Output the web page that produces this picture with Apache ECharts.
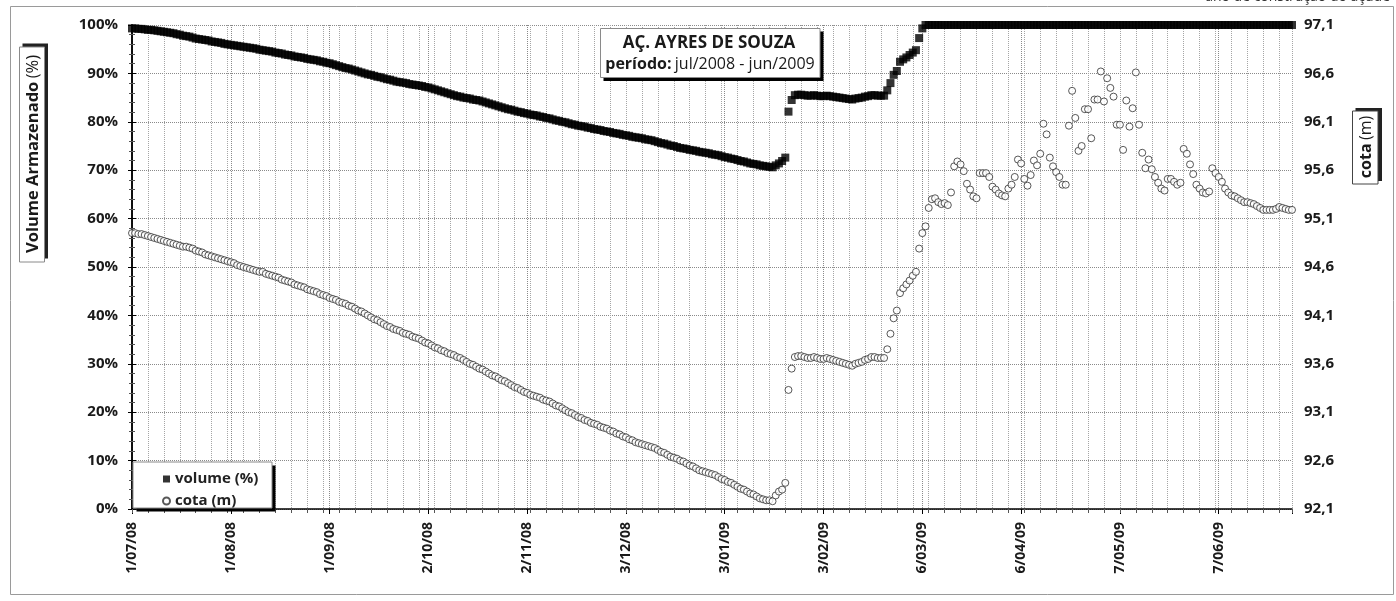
<!DOCTYPE html>
<html>
<head>
<meta charset="utf-8">
<script src="https://cdn.jsdelivr.net/npm/echarts@6/dist/echarts.min.js"></script>
<style>
html,body{margin:0;padding:0;background:#fff;}
#chart{width:1396px;height:601px;}
</style>
</head>
<body>
<div id="chart"></div>
<script>
// x axis: days counted from 1/07/08 (daily readings, 1/07/08 .. 30/06/09)
const dateTickLabels = ['1/07/08','1/08/08','1/09/08','2/10/08','2/11/08','3/12/08','3/01/09','3/02/09','6/03/09','6/04/09','7/05/09','7/06/09'];
const volumeTickLabels = ['0%','10%','20%','30%','40%','50%','60%','70%','80%','90%','100%'];
const cotaTickLabels = ['92,1','92,6','93,1','93,6','94,1','94,6','95,1','95,6','96,1','96,6','97,1'];
const COTA_BASE = 92.1;

// volume armazenado (%), one value per day
const volume = [
99.3,99.3,99.2,99.2,99.1,99.0,99.0,98.9,98.8,98.7,
98.6,98.5,98.4,98.3,98.1,98.0,97.8,97.7,97.6,97.4,
97.2,97.1,97.0,96.9,96.8,96.6,96.5,96.4,96.3,96.1,
96.0,95.9,95.8,95.7,95.6,95.5,95.4,95.3,95.2,95.1,
94.9,94.8,94.7,94.6,94.5,94.3,94.2,94.1,93.9,93.8,
93.7,93.5,93.4,93.3,93.2,93.0,92.9,92.8,92.7,92.5,
92.4,92.2,92.1,91.9,91.7,91.5,91.3,91.1,91.0,90.8,
90.6,90.4,90.2,90.0,89.8,89.7,89.5,89.3,89.2,89.0,
88.8,88.7,88.5,88.3,88.2,88.1,88.0,87.8,87.7,87.6,
87.5,87.4,87.2,87.1,86.9,86.7,86.5,86.3,86.1,85.9,
85.7,85.5,85.3,85.2,85.0,84.9,84.8,84.6,84.5,84.4,
84.2,84.0,83.8,83.6,83.4,83.2,83.0,82.8,82.6,82.5,
82.3,82.1,82.0,81.8,81.7,81.5,81.4,81.3,81.1,81.0,
80.8,80.7,80.5,80.3,80.2,80.0,79.9,79.7,79.5,79.4,
79.2,79.1,79.0,78.8,78.7,78.5,78.4,78.3,78.1,78.0,
77.9,77.7,77.6,77.5,77.3,77.2,77.1,76.9,76.8,76.7,
76.6,76.4,76.3,76.2,76.0,75.8,75.6,75.5,75.3,75.1,
75.0,74.8,74.6,74.5,74.4,74.2,74.1,74.0,73.8,73.7,
73.6,73.5,73.3,73.2,73.1,72.9,72.7,72.6,72.4,72.3,
72.1,71.9,71.8,71.6,71.4,71.3,71.2,71.0,70.9,70.8,
70.7,70.6,71.0,71.4,71.9,72.6,82.1,84.5,85.5,85.6,
85.6,85.5,85.4,85.4,85.5,85.4,85.3,85.3,85.4,85.3,
85.2,85.1,85.0,84.9,84.8,84.7,84.6,84.8,84.9,85.0,
85.2,85.3,85.5,85.5,85.4,85.4,85.4,86.5,88.0,89.7,
90.5,92.4,92.9,93.3,93.8,94.3,94.8,97.3,99.3,100,
100,100,100,100,100,100,100,100,100,100,
100,100,100,100,100,100,100,100,100,100,
100,100,100,100,100,100,100,100,100,100,
100,100,100,100,100,100,100,100,100,100,
100,100,100,100,100,100,100,100,100,100,
100,100,100,100,100,100,100,100,100,100,
100,100,100,100,100,100,100,100,100,100,
100,100,100,100,100,100,100,100,100,100,
100,100,100,100,100,100,100,100,100,100,
100,100,100,100,100,100,100,100,100,100,
100,100,100,100,100,100,100,100,100,100,
100,100,100,100,100
];

// cota (m), one value per day
const cota = [
94.95,94.95,94.94,94.94,94.93,94.92,94.91,94.90,94.89,94.88,
94.87,94.86,94.85,94.84,94.83,94.82,94.81,94.81,94.80,94.79,
94.77,94.76,94.75,94.73,94.72,94.71,94.70,94.69,94.68,94.67,
94.66,94.65,94.64,94.62,94.61,94.60,94.59,94.58,94.57,94.56,
94.55,94.55,94.53,94.52,94.51,94.50,94.49,94.47,94.46,94.45,
94.44,94.42,94.41,94.40,94.39,94.37,94.36,94.35,94.34,94.32,
94.31,94.30,94.28,94.27,94.26,94.24,94.23,94.22,94.20,94.19,
94.17,94.15,94.14,94.12,94.10,94.08,94.06,94.05,94.03,94.01,
93.99,93.98,93.96,93.95,93.94,93.92,93.91,93.90,93.88,93.87,
93.86,93.84,93.82,93.81,93.79,93.77,93.76,93.74,93.73,93.71,
93.70,93.69,93.67,93.66,93.64,93.62,93.60,93.59,93.57,93.55,
93.54,93.52,93.50,93.48,93.47,93.45,93.43,93.42,93.40,93.38,
93.36,93.35,93.33,93.31,93.30,93.28,93.27,93.26,93.25,93.23,
93.22,93.21,93.19,93.17,93.16,93.14,93.12,93.10,93.09,93.07,
93.05,93.04,93.02,93.01,92.99,92.98,92.97,92.95,92.94,92.93,
92.91,92.90,92.88,92.87,92.85,92.84,92.82,92.81,92.79,92.78,
92.77,92.76,92.75,92.74,92.73,92.71,92.69,92.68,92.66,92.64,
92.63,92.62,92.60,92.59,92.57,92.55,92.54,92.52,92.50,92.49,
92.48,92.47,92.46,92.45,92.43,92.41,92.40,92.38,92.37,92.35,
92.33,92.31,92.30,92.28,92.26,92.25,92.23,92.21,92.20,92.19,
92.19,92.18,92.24,92.28,92.30,92.37,93.33,93.55,93.67,93.68,
93.68,93.67,93.66,93.66,93.67,93.66,93.65,93.65,93.66,93.65,
93.64,93.63,93.62,93.61,93.60,93.59,93.58,93.60,93.61,93.62,
93.64,93.65,93.67,93.67,93.66,93.66,93.66,93.75,93.91,94.07,
94.15,94.33,94.38,94.42,94.46,94.51,94.55,94.79,94.95,95.02,
95.21,95.30,95.31,95.27,95.25,95.26,95.24,95.37,95.64,95.69,
95.66,95.59,95.46,95.40,95.33,95.31,95.57,95.57,95.57,95.53,
95.43,95.40,95.36,95.34,95.33,95.41,95.45,95.53,95.71,95.67,
95.51,95.44,95.55,95.70,95.65,95.77,96.08,95.97,95.73,95.64,
95.58,95.53,95.45,95.45,96.06,96.42,96.14,95.80,95.85,96.23,
96.23,95.93,96.33,96.33,96.62,96.31,96.55,96.45,96.36,96.07,
96.07,95.81,96.32,96.05,96.24,96.61,96.07,95.78,95.62,95.71,
95.61,95.53,95.47,95.41,95.39,95.51,95.51,95.48,95.45,95.47,
95.82,95.77,95.66,95.56,95.45,95.41,95.37,95.36,95.38,95.62,
95.57,95.53,95.48,95.41,95.37,95.34,95.33,95.31,95.29,95.27,
95.27,95.26,95.25,95.23,95.21,95.19,95.19,95.19,95.19,95.20,
95.22,95.21,95.20,95.19,95.19
];

const FONT = "'Open Sans', 'DejaVu Sans', sans-serif";
const chart = echarts.init(document.getElementById('chart'), null, {renderer: 'canvas'});

const gridLine = {color: '#8a8a8a', type: 'dotted', width: 1};

const option = {
  animation: false,
  backgroundColor: '#fff',
  textStyle: {fontFamily: FONT},
  grid: {left: 132, right: 104, top: 25, bottom: 92, outerBoundsMode: 'none'},
  legend: {
    orient: 'vertical', left: 157, top: 465, itemWidth: 7, itemHeight: 7, itemGap: 4,
    textStyle: {fontFamily: FONT, fontSize: 15, fontWeight: 'bold', color: '#222', lineHeight: 18},
    data: ['volume (%)', 'cota (m)'], z: 6
  },
  xAxis: [
    {
      type: 'value', min: 0, max: 364, interval: 31, position: 'bottom',
      axisLine: {show: true, onZero: false, lineStyle: {color: '#000', width: 1.5}},
      axisTick: {show: true, length: 5, lineStyle: {color: '#000'}},
      axisLabel: {
        rotate: 90, margin: 13, fontSize: 14, fontWeight: 'bold', color: '#1a1a1a', fontFamily: FONT,
        formatter: function (v) { const k = v / 31; return (Number.isInteger(k) && dateTickLabels[k]) ? dateTickLabels[k] : ''; }
      },
      splitLine: {show: true, lineStyle: gridLine}
    },
    {
      type: 'value', min: 0, max: 364, interval: 5, position: 'bottom',
      axisLine: {show: false}, axisLabel: {show: false},
      axisTick: {show: true, length: 4, lineStyle: {color: '#555'}},
      splitLine: {show: true, lineStyle: {color: '#a5a5a5', type: 'dotted', width: 1}}
    }
  ],
  yAxis: [
    {
      type: 'value', min: 0, max: 100, interval: 10, position: 'left',
      axisLine: {show: true, lineStyle: {color: '#000', width: 1.5}},
      axisTick: {show: true, length: 4, lineStyle: {color: '#000'}},
      minorTick: {show: true, splitNumber: 5, length: 3, lineStyle: {color: '#555'}},
      axisLabel: {margin: 14, fontSize: 15, fontWeight: 'bold', color: '#1a1a1a', fontFamily: FONT,
        formatter: function (v) { return volumeTickLabels[Math.round(v / 10)]; }},
      splitLine: {show: true, lineStyle: gridLine}
    },
    {
      type: 'value', min: 0, max: 5, interval: 0.5, position: 'right',
      axisLine: {show: true, lineStyle: {color: '#000', width: 1.5}},
      axisTick: {show: true, length: 4, lineStyle: {color: '#000'}},
      minorTick: {show: true, splitNumber: 5, length: 3, lineStyle: {color: '#555'}},
      axisLabel: {margin: 12, fontSize: 15, fontWeight: 'bold', color: '#1a1a1a', fontFamily: FONT,
        formatter: function (v) { return cotaTickLabels[Math.round(v / 0.5)]; }},
      splitLine: {show: false}
    }
  ],
  series: [
    {
      name: 'volume (%)', type: 'scatter', xAxisIndex: 0, yAxisIndex: 0,
      symbol: 'rect', symbolSize: 8, clip: false, z: 3,
      itemStyle: {color: '#000'},
      data: volume.map(function (v, i) { return [i, v]; })
    },
    {
      name: 'cota (m)', type: 'scatter', xAxisIndex: 0, yAxisIndex: 1,
      symbol: 'circle', symbolSize: 7, clip: false, z: 4,
      itemStyle: {color: '#fff', borderColor: '#2e2e2e', borderWidth: 1},
      data: cota.map(function (v, i) { return [i, +(v - COTA_BASE).toFixed(3)]; })
    }
  ],
  graphic: [
    // outer border
    {type: 'rect', z: 1, shape: {x: 10.5, y: 6.5, width: 1383, height: 588}, style: {fill: null, stroke: '#9a9a9a', lineWidth: 1}},
    // cut-off note at top right
    {type: 'text', z: 10, x: 1390, y: -3, style: {text: 'ano de construção do açude', font: '14px ' + FONT, fill: '#333', align: 'right', verticalAlign: 'middle'}},
    // title box
    {type: 'rect', z: 10, shape: {x: 603.5, y: 31.5, width: 220, height: 49.5}, style: {fill: '#000'}},
    {type: 'rect', z: 11, shape: {x: 600.5, y: 28.5, width: 219.5, height: 49}, style: {fill: '#fff', stroke: '#8a8a8a', lineWidth: 1}},
    {type: 'text', z: 12, x: 709, y: 43.5, style: {text: 'AÇ. AYRES DE SOUZA', font: 'bold 17px ' + FONT, fill: '#1a1a1a', align: 'center', verticalAlign: 'middle'}},
    {type: 'text', z: 12, x: 710, y: 64.5, style: {
      text: '{b|período:} {r|jul/2008 - jun/2009}', align: 'center', verticalAlign: 'middle',
      rich: {b: {fontFamily: FONT, fontWeight: 'bold', fontSize: 16, fill: '#1a1a1a'}, r: {fontFamily: FONT, fontWeight: 'normal', fontSize: 16, fill: '#1a1a1a'}}
    }},
    // legend box
    {type: 'rect', z: 4, shape: {x: 136.5, y: 465.5, width: 139, height: 46}, style: {fill: '#000'}},
    {type: 'rect', z: 5, shape: {x: 133, y: 462, width: 139, height: 46}, style: {fill: '#fff', stroke: '#8a8a8a', lineWidth: 1}},
    // left axis title box
    {type: 'rect', z: 10, shape: {x: 22.5, y: 43.5, width: 25.5, height: 215}, style: {fill: '#222'}},
    {type: 'rect', z: 11, shape: {x: 19.5, y: 47, width: 25, height: 215}, style: {fill: '#fff', stroke: '#8a8a8a', lineWidth: 1}},
    {type: 'text', z: 12, x: 33, y: 154, rotation: Math.PI / 2, style: {
      text: '{b|Volume Armazenado} {r|(%)}', align: 'center', verticalAlign: 'middle',
      rich: {b: {fontFamily: FONT, fontWeight: 'bold', fontSize: 16.5, fill: '#1a1a1a'}, r: {fontFamily: FONT, fontWeight: 'normal', fontSize: 16.5, fill: '#1a1a1a'}}
    }},
    // right axis title box
    {type: 'rect', z: 10, shape: {x: 1355.5, y: 108, width: 26.5, height: 73}, style: {fill: '#222'}},
    {type: 'rect', z: 11, shape: {x: 1352.5, y: 111, width: 25.5, height: 73}, style: {fill: '#fff', stroke: '#444', lineWidth: 1}},
    {type: 'text', z: 12, x: 1366, y: 147, rotation: Math.PI / 2, style: {
      text: '{b|cota} {r|(m)}', align: 'center', verticalAlign: 'middle',
      rich: {b: {fontFamily: FONT, fontWeight: 'bold', fontSize: 16, fill: '#1a1a1a'}, r: {fontFamily: FONT, fontWeight: 'normal', fontSize: 16, fill: '#1a1a1a'}}
    }}
  ]
};
chart.setOption(option);
</script>
</body>
</html>
